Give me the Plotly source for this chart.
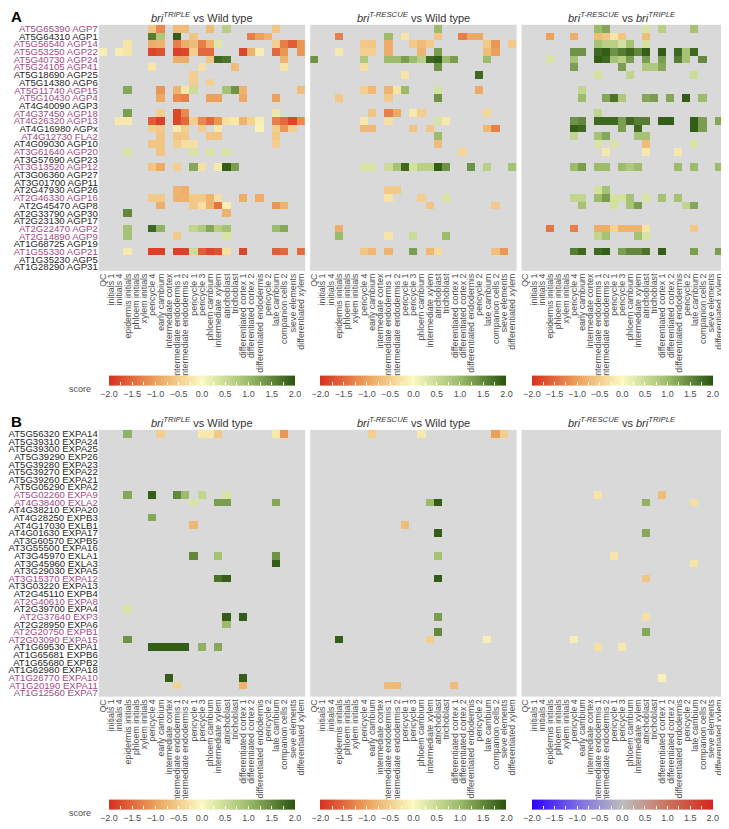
import numpy as np
import plotly.graph_objects as go

# ---------------- data ----------------
cell_types = ["QC", "initials 1", "initials 4", "epidermis initials", "phloem initials",
              "xylem initials", "pericycle 4", "early cambium", "intermediate cortex",
              "intermediate endodermis 1", "intermediate endodermis 2", "pericycle 1",
              "pericycle 3", "phloem cambium", "intermediate xylem", "atrichoblast",
              "trichoblast", "differentiated cortex 1", "differentiated cortex 2",
              "differentiated endodermis", "pericycle 2", "late cambium",
              "companion cells 2", "sieve elements", "differentiated xylem"]

agp_ids = ["AT5G65390", "AT5G64310", "AT5G56540", "AT5G53250", "AT5G40730", "AT5G24105",
           "AT5G18690", "AT5G14380", "AT5G11740", "AT5G10430", "AT4G40090", "AT4G37450",
           "AT4G26320", "AT4G16980", "AT4G12730", "AT4G09030", "AT3G61640", "AT3G57690",
           "AT3G13520", "AT3G06360", "AT3G01700", "AT2G47930", "AT2G46330", "AT2G45470",
           "AT2G33790", "AT2G23130", "AT2G22470", "AT2G14890", "AT1G68725", "AT1G55330",
           "AT1G35230", "AT1G28290"]
agp_names = ["AGP7", "AGP1", "AGP14", "AGP22", "AGP24", "AGP41", "AGP25", "AGP6", "AGP15",
             "AGP4", "AGP3", "AGP18", "AGP13", "AGPx", "FLA2", "AGP10", "AGP20", "AGP23",
             "AGP12", "AGP27", "AGP11", "AGP26", "AGP16", "AGP8", "AGP30", "AGP17", "AGP2",
             "AGP9", "AGP19", "AGP21", "AGP5", "AGP31"]
agp_highlight = [1, 0, 1, 1, 1, 1, 0, 0, 1, 1, 0, 1, 1, 0, 1, 0, 1, 0, 1, 0, 0, 0, 1, 0,
                 0, 0, 1, 1, 0, 1, 0, 0]

expa_ids = ["AT5G56320", "AT5G39310", "AT5G39300", "AT5G39290", "AT5G39280", "AT5G39270",
            "AT5G39260", "AT5G05290", "AT5G02260", "AT4G38400", "AT4G38210", "AT4G28250",
            "AT4G17030", "AT4G01630", "AT3G60570", "AT3G55500", "AT3G45970", "AT3G45960",
            "AT3G29030", "AT3G15370", "AT3G03220", "AT2G45110", "AT2G40610", "AT2G39700",
            "AT2G37640", "AT2G28950", "AT2G20750", "AT2G03090", "AT1G69530", "AT1G65681",
            "AT1G65680", "AT1G62980", "AT1G26770", "AT1G20190", "AT1G12560"]
expa_names = ["EXPA14", "EXPA24", "EXPA25", "EXP26", "EXPA23", "EXPA22", "EXPA21", "EXPA2",
              "EXPA9", "EXLA2", "EXPA20", "EXPB3", "EXLB1", "EXPA17", "EXPB5", "EXPA16",
              "EXLA1", "EXLA3", "EXPA5", "EXPA12", "EXPA13", "EXPB4", "EXPA8", "EXPA4",
              "EXP3", "EXPA6", "EXPB1", "EXPA15", "EXPA1", "EXPB6", "EXPB2", "EXPA18",
              "EXPA10", "EXPA11", "EXPA7"]
expa_highlight = [0, 0, 0, 0, 0, 0, 0, 0, 1, 1, 0, 0, 0, 0, 0, 0, 0, 0, 0, 1, 0, 0, 1, 0,
                  1, 0, 1, 1, 0, 0, 0, 0, 1, 1, 1]

# (row, column, score) for each non-empty cell
A1_cells = [
    (0, 6, -0.6), (0, 7, -1.2), (0, 9, -0.7), (0, 10, -0.7), (0, 13, -0.7), (0, 15, 0.7), (0, 21, -0.6),
    (1, 6, 1.6), (1, 7, 0.8), (1, 9, 1.9), (1, 11, -0.6), (1, 18, -1.3), (1, 19, -1.0), (1, 20, -0.8),
    (2, 3, -0.25), (2, 6, -0.85), (2, 7, -0.8), (2, 9, -1.3), (2, 10, -0.85), (2, 11, -0.7), (2, 12, -1.3),
    (2, 13, -0.8), (2, 14, 0.3), (2, 21, -0.5), (2, 22, -1.3), (2, 23, -1.6), (2, 24, -1.1),
    (3, 0, -0.15), (3, 2, -0.15), (3, 3, -0.25), (3, 6, -1.8), (3, 7, -1.7), (3, 9, -1.85), (3, 10, -1.8),
    (3, 11, -0.5), (3, 12, -1.5), (3, 13, -1.5), (3, 17, -1.8), (3, 18, -0.8), (3, 19, -0.15),
    (3, 21, -1.5), (3, 22, -1.1), (3, 24, -1.1),
    (4, 9, -0.85), (4, 10, -0.85), (4, 13, -0.6), (4, 14, 1.8), (4, 15, 1.7), (4, 22, -0.8),
    (5, 6, -0.25), (5, 12, -0.3), (5, 16, -0.7), (5, 22, -0.25),
    (6, 11, -0.5),
    (7, 11, -0.5), (7, 13, -0.5),
    (8, 3, 1.2), (8, 7, -1.1), (8, 9, -0.8), (8, 10, -0.25), (8, 11, 0.5), (8, 15, 0.9), (8, 16, 1.4),
    (8, 17, -0.8), (8, 24, -0.7),
    (9, 7, -0.9), (9, 9, -1.2), (9, 10, -1.3), (9, 13, -1.0), (9, 14, -1.0), (9, 17, -0.9), (9, 21, -1.0),
    (11, 3, 1.3), (11, 7, -0.5), (11, 9, -1.8), (11, 10, -1.2), (11, 21, -0.25),
    (12, 2, -0.2), (12, 3, -0.2), (12, 6, -1.6), (12, 7, -1.85), (12, 9, -1.8), (12, 10, -1.5),
    (12, 11, -0.5), (12, 12, -1.2), (12, 13, -1.5), (12, 14, -1.1), (12, 15, -0.3), (12, 16, -0.2),
    (12, 17, -0.8), (12, 18, -0.45), (12, 19, -0.15), (12, 21, -1.3), (12, 22, -1.5), (12, 23, -1.8),
    (12, 24, -1.2),
    (13, 6, -0.5), (13, 7, -0.55), (13, 9, -0.2), (13, 10, -0.5), (13, 12, -0.5), (13, 14, -0.2),
    (13, 19, -0.1), (13, 21, -0.5), (13, 22, -1.1), (13, 23, -0.5),
    (14, 7, -0.6), (14, 9, -0.6), (14, 10, -0.55), (14, 13, -0.6), (14, 14, -0.6), (14, 21, -0.55),
    (15, 6, -0.6), (15, 7, -0.6), (15, 9, -0.5), (15, 10, -0.3), (15, 11, -0.3), (15, 21, -0.5),
    (16, 3, 0.35), (16, 7, -0.6), (16, 11, 0.35), (16, 13, 0.35), (16, 15, 0.35),
    (18, 6, -0.6), (18, 7, -0.9), (18, 9, -0.5), (18, 11, 1.2), (18, 12, -0.3), (18, 14, -0.2),
    (18, 15, 1.9), (18, 16, 1.3),
    (21, 9, -0.8), (21, 10, -0.85),
    (22, 6, -0.55), (22, 7, -0.55), (22, 9, -0.8), (22, 10, -0.8), (22, 11, -0.55), (22, 12, -0.55),
    (22, 13, -0.8), (22, 14, -0.3), (22, 17, -0.85), (22, 19, -0.85),
    (23, 7, -0.85), (23, 11, -0.55), (23, 12, -0.3), (23, 13, -0.8), (23, 14, -1.4), (23, 15, -0.15),
    (23, 21, -1.1), (23, 22, -0.8),
    (24, 3, 1.5), (24, 15, -0.8),
    (26, 3, 0.9), (26, 6, 1.8), (26, 7, 1.1), (26, 11, 0.6), (26, 12, 0.8), (26, 13, 1.2), (26, 14, 0.7),
    (26, 15, 0.9), (26, 21, 1.0), (26, 22, 1.2),
    (27, 3, 0.9), (27, 9, -0.55), (27, 15, 0.35),
    (29, 3, -0.2), (29, 6, -1.85), (29, 7, -1.85), (29, 9, -1.85), (29, 10, -1.85), (29, 11, 0.5),
    (29, 12, -1.6), (29, 13, -1.8), (29, 14, -1.7), (29, 15, -0.3), (29, 17, -1.8), (29, 21, -1.6),
    (29, 22, -1.5), (29, 24, -1.5),
]

A2_cells = [
    (0, 15, 1.0),
    (1, 3, -1.3), (1, 9, 1.0), (1, 11, -0.25), (1, 15, -0.6), (1, 18, -1.3), (1, 19, -0.9), (1, 20, -0.9),
    (2, 6, -0.55), (2, 7, -0.6), (2, 9, -0.85), (2, 12, -0.55), (2, 13, -0.7), (2, 14, -0.55),
    (2, 21, -0.55), (2, 22, -1.1), (2, 24, -0.55),
    (3, 3, -0.2), (3, 6, -0.5), (3, 7, -0.5), (3, 9, -0.85), (3, 13, -0.8), (3, 15, 1.3), (3, 21, -0.7),
    (3, 22, -1.0),
    (4, 0, 1.4), (4, 6, 0.8), (4, 9, 1.0), (4, 10, 1.0), (4, 11, 1.3), (4, 12, 1.0), (4, 13, 0.7),
    (4, 14, 1.8), (4, 15, 1.9), (4, 16, 1.0), (4, 17, 1.3), (4, 21, 1.0),
    (5, 6, -0.3), (5, 15, 1.4),
    (6, 11, -0.25), (6, 20, 1.8),
    (8, 6, -0.5), (8, 7, -0.75), (8, 9, -0.8), (8, 10, -0.25), (8, 11, 1.0), (8, 15, 0.4), (8, 20, -0.9),
    (9, 3, -0.55), (9, 9, -0.55), (9, 15, 1.4),
    (11, 7, -0.6), (11, 9, -1.3), (11, 10, -0.9), (11, 12, -0.2), (11, 13, -0.5), (11, 21, -0.4),
    (12, 6, -0.2), (12, 9, -0.3), (12, 15, 0.35), (12, 16, -0.2),
    (13, 6, -0.75), (13, 7, -0.75), (13, 12, -0.6), (13, 14, -0.6), (13, 21, -0.75), (13, 22, -1.3),
    (14, 15, 1.0),
    (15, 15, -0.7),
    (16, 18, -0.4),
    (18, 6, 0.35), (18, 7, 0.35), (18, 9, 0.5), (18, 10, 0.9), (18, 11, 1.8), (18, 12, 0.4), (18, 13, 0.7),
    (18, 14, 0.7), (18, 15, 1.9), (18, 16, 1.4), (18, 19, 1.4), (18, 21, 0.7), (18, 24, 0.9),
    (21, 9, -0.55), (21, 10, -0.55),
    (22, 9, -0.25), (22, 13, -0.5), (22, 16, 0.35),
    (23, 14, -0.6), (23, 22, -0.55),
    (26, 3, -0.85),
    (27, 3, 1.0), (27, 9, -0.25), (27, 12, 0.5), (27, 16, 1.0),
    (29, 6, -0.6), (29, 7, -0.75), (29, 9, -0.8), (29, 12, 1.3), (29, 14, -0.75), (29, 15, -0.35),
    (29, 22, -0.65), (29, 23, -1.1),
]

A3_cells = [
    (0, 9, 1.0), (0, 10, 1.2), (0, 15, 0.35), (0, 17, 0.7), (0, 21, 0.9),
    (1, 3, -1.0), (1, 6, -0.85), (1, 9, -0.7), (1, 10, -0.6), (1, 11, -0.25), (1, 12, -0.6), (1, 15, -0.7),
    (2, 9, 0.9), (2, 10, 0.7), (2, 11, 0.7), (2, 12, 0.4), (2, 13, 0.9), (2, 15, 0.4),
    (3, 6, 1.4), (3, 7, 1.4), (3, 9, 1.8), (3, 10, 1.9), (3, 11, 1.4), (3, 12, 1.6), (3, 13, 1.8),
    (3, 14, 1.5), (3, 15, 1.9), (3, 17, 1.9), (3, 19, 1.8), (3, 20, 0.9), (3, 21, 1.8),
    (4, 3, 0.35), (4, 6, 0.9), (4, 9, 1.9), (4, 10, 1.8), (4, 11, 0.9), (4, 12, 0.7), (4, 13, 1.3),
    (4, 15, 1.3), (4, 17, 1.3), (4, 19, 1.6), (4, 20, 0.9), (4, 22, 1.5),
    (5, 6, 1.3), (5, 12, 1.3), (5, 15, 0.8), (5, 16, 0.8), (5, 17, 1.2),
    (6, 9, 0.4), (6, 13, 0.6), (6, 21, 0.5),
    (8, 7, 0.6),
    (9, 7, 1.0), (9, 10, 1.2), (9, 11, 1.7), (9, 12, 0.8), (9, 15, 1.2), (9, 16, 1.3), (9, 18, 1.2),
    (9, 20, 1.9), (9, 22, 1.0),
    (11, 9, 0.6),
    (12, 6, 1.4), (12, 7, 1.5), (12, 9, 1.8), (12, 10, 1.8), (12, 11, 1.8), (12, 12, 1.3), (12, 13, 1.8),
    (12, 14, 1.6), (12, 15, 1.6), (12, 17, 1.9), (12, 18, 1.9), (12, 21, 1.9), (12, 22, 1.3), (12, 24, 1.2),
    (13, 6, 1.9), (13, 7, 1.8), (13, 12, 1.3), (13, 14, 1.8), (13, 21, 1.9), (13, 22, 1.3),
    (14, 6, 0.6), (14, 9, 0.9), (14, 10, 1.2), (14, 14, 0.9), (14, 15, 0.9),
    (15, 9, 0.35), (15, 11, 0.35), (15, 15, -0.7), (15, 21, 0.35),
    (16, 10, -0.2), (16, 15, -0.2), (16, 19, -0.2),
    (18, 6, 1.0), (18, 7, 1.3), (18, 9, 1.0), (18, 10, 1.0), (18, 12, 1.0), (18, 13, 0.8), (18, 14, 1.0),
    (18, 19, 1.0), (18, 21, 1.0), (18, 24, 1.0),
    (21, 9, 0.4), (21, 10, 0.9),
    (22, 6, 0.6), (22, 7, 0.6), (22, 9, 1.0), (22, 10, 1.3), (22, 11, 0.4), (22, 12, 0.4), (22, 13, 0.9),
    (22, 15, 0.35), (22, 17, 0.9), (22, 19, 0.9),
    (23, 7, 0.9), (23, 11, 0.4), (23, 13, 0.9), (23, 14, 1.3), (23, 20, 0.6), (23, 21, 1.2),
    (26, 3, -1.4), (26, 6, -1.3), (26, 9, -0.85), (26, 10, -0.85), (26, 11, -0.45), (26, 12, -0.8),
    (26, 13, -0.8), (26, 14, -0.8), (26, 15, -0.25), (26, 21, -0.55),
    (27, 9, 0.6), (27, 10, 0.9), (27, 14, 0.9), (27, 15, 0.35),
    (29, 6, 1.6), (29, 7, 1.8), (29, 9, 1.8), (29, 10, 1.9), (29, 12, 1.3), (29, 13, 1.5), (29, 14, 1.5),
    (29, 15, 1.7), (29, 17, 1.9), (29, 21, 1.3), (29, 24, 1.3),
]

B1_cells = [
    (0, 3, 1.1), (0, 7, -0.5), (0, 12, -0.2), (0, 13, -0.2), (0, 14, -0.55), (0, 21, -0.2), (0, 22, -1.1),
    (8, 3, 1.2), (8, 6, 1.9), (8, 9, 1.5), (8, 10, 1.0), (8, 12, 0.6), (8, 15, 0.35),
    (9, 11, 0.35), (9, 14, 1.3), (9, 15, 1.3), (9, 21, 1.2),
    (11, 6, 1.2),
    (12, 11, -0.75),
    (16, 11, 1.5), (16, 14, 0.9), (16, 21, 1.4),
    (17, 21, 1.9),
    (19, 14, 1.7), (19, 15, 1.9),
    (23, 3, 0.35),
    (24, 15, 1.9), (24, 17, 1.9),
    (25, 15, 1.0),
    (27, 3, 1.4),
    (28, 6, 1.9), (28, 7, 1.9), (28, 8, 1.9), (28, 9, 1.9), (28, 10, 1.9), (28, 12, 1.1), (28, 14, 1.2),
    (32, 8, 1.9), (32, 17, 1.9),
    (33, 9, -0.45), (33, 17, -0.8),
]

B2_cells = [
    (0, 7, -0.5), (0, 13, -0.2), (0, 22, -1.0), (0, 23, -0.5),
    (9, 14, 1.0), (9, 15, 1.9),
    (12, 11, -0.7),
    (13, 15, 1.9),
    (16, 15, 0.9),
    (19, 15, 1.9),
    (24, 15, 1.3),
    (26, 15, 1.5),
    (27, 3, 1.9), (27, 14, -0.5), (27, 21, -0.15),
    (33, 9, -0.7), (33, 10, -0.75), (33, 17, -0.7),
]

B3_cells = [
    (8, 9, -0.25), (8, 17, -0.7),
    (9, 15, 1.1), (9, 21, -0.3),
    (13, 15, 1.2),
    (16, 11, -0.25),
    (17, 21, -0.25),
    (19, 15, -0.6),
    (24, 15, -0.3),
    (26, 15, 1.2),
    (27, 6, -0.15),
    (28, 9, -0.3), (28, 12, -0.2),
    (32, 17, -0.1),
]

panel_titles = ["<i>bri</i><sup><i>TRIPLE</i></sup> vs Wild type",
                "<i>bri</i><sup><i>T-RESCUE</i></sup> vs Wild type",
                "<i>bri</i><sup><i>T-RESCUE</i></sup> vs <i>bri</i><sup><i>TRIPLE</i></sup>"]

# ---------------- styling / layout ----------------
W, H = 729, 829
GREEN = [[0.0, "#d7301f"], [0.25, "#eca15b"], [0.5, "#fafac2"], [0.75, "#9dbc6b"], [1.0, "#28530e"]]
BLUERED = [[0.0, "#2f00ff"], [0.25, "#7b6be3"], [0.5, "#bdbdbd"], [0.75, "#c9735e"], [1.0, "#d7261e"]]
PURPLE = "#9e4a86"
BLACK = "#262626"
TICKGREY = "#4d4d4d"

col_px = [(90, 297), (302, 509), (514, 716)]
row_px = {"A": (15, 264), "B": (425, 695)}
cbar_px = {"A": 384, "B": 813}


def fx(p):
    return p / W


def fy(p):
    return 1 - p / H


def to_matrix(cells, nrows):
    m = np.full((nrows, len(cell_types)), np.nan)
    for r, c, v in cells:
        m[r, c] = v
    return m


fine_ticks = [round(-2 + 0.25 * i, 2) for i in range(17)]
fine_text = [(f"{t:.1f}".replace("-", "\u2212") if abs(t * 2 - round(t * 2)) < 1e-9 else " ")
             for t in fine_ticks]


def cbar(col, panel):
    x0, x1 = col_px[col]
    return dict(orientation="h", x=fx((x0 + x1) / 2), xanchor="center",
                y=fy(cbar_px[panel]), yanchor="middle", len=(x1 - x0) / W, lenmode="fraction",
                thickness=10, outlinewidth=0, ticks="inside", ticklen=3, tickcolor="white",
                tickvals=fine_ticks, ticktext=fine_text, tickangle=0,
                ticklabeloverflow="allow",
                tickfont=dict(size=9, color=TICKGREY), ticklabelposition="outside bottom")


fig = go.Figure()
layout = dict(width=W, height=H, margin=dict(l=0, r=0, t=0, b=0), autosize=False,
              paper_bgcolor="white", plot_bgcolor="#d9d9d9",
              font=dict(family="Liberation Sans, Arial, sans-serif", color=BLACK),
              showlegend=False)

panels = [
    ("A", [A1_cells, A2_cells, A3_cells], agp_ids, agp_names, agp_highlight),
    ("B", [B1_cells, B2_cells, B3_cells], expa_ids, expa_names, expa_highlight),
]
annotations = []
k = 0
for panel, cell_sets, ids, names, hl in panels:
    labels = [f"{i} {n}" for i, n in zip(ids, names)]
    ticktext = [f"<span style='color:{PURPLE if h else BLACK}'>{l}</span>" for l, h in zip(labels, hl)]
    nrows = len(labels)
    y0, y1 = row_px[panel]
    for c, cells in enumerate(cell_sets):
        k += 1
        xa, ya = f"x{k}", f"y{k}"
        blue_bar = (panel == "B" and c == 2)
        fig.add_trace(go.Heatmap(
            z=to_matrix(cells, nrows), x=cell_types, y=labels, xaxis=xa, yaxis=ya,
            colorscale=GREEN, zmin=-2, zmax=2, showscale=not blue_bar,
            colorbar=cbar(c, panel), hoverongaps=False))
        if blue_bar:
            fig.add_trace(go.Scatter(
                x=[None], y=[None], xaxis=xa, yaxis=ya, mode="markers",
                marker=dict(color=[0], cmin=-2, cmax=2, colorscale=BLUERED, showscale=True,
                            colorbar=cbar(c, panel)), hoverinfo="skip"))
        x0, x1 = col_px[c]
        layout[f"xaxis{k}"] = dict(domain=[fx(x0), fx(x1)], anchor=ya, type="category",
                                   range=[-0.5, len(cell_types) - 0.5], showgrid=False,
                                   zeroline=False, showline=False, ticks="", tickangle=-90,
                                   tickmode="array", tickvals=cell_types, ticktext=cell_types,
                                   ticklabeloverflow="allow",
                                   tickfont=dict(size=8.8, color=TICKGREY),
                                   categoryorder="array", categoryarray=cell_types)
        layout[f"yaxis{k}"] = dict(domain=[fy(y1), fy(y0)], anchor=xa, type="category",
                                   range=[nrows - 0.5, -0.5], showgrid=False, zeroline=False,
                                   showline=False, ticks="", showticklabels=(c == 0),
                                   tickmode="array", tickvals=labels, ticktext=ticktext,
                                   tickfont=dict(size=9.6))
        annotations.append(dict(text=panel_titles[c], x=fx((x0 + x1) / 2), y=fy(y0 - 8),
                                xref="paper", yref="paper", xanchor="center", yanchor="middle",
                                showarrow=False, font=dict(size=11, color="#333333")))
    annotations.append(dict(text=f"<b>{panel}</b>", x=0, y=fy(y0 - 8), xref="paper", yref="paper",
                            xanchor="left", yanchor="middle", showarrow=False,
                            font=dict(size=15, color="black")))
    annotations.append(dict(text="score", x=fx(84), y=fy(cbar_px[panel]), xref="paper", yref="paper",
                            xanchor="right", yanchor="middle", showarrow=False,
                            font=dict(size=9, color=TICKGREY)))

layout["annotations"] = annotations
fig.update_layout(**layout)
fig.write_html("out.html")
